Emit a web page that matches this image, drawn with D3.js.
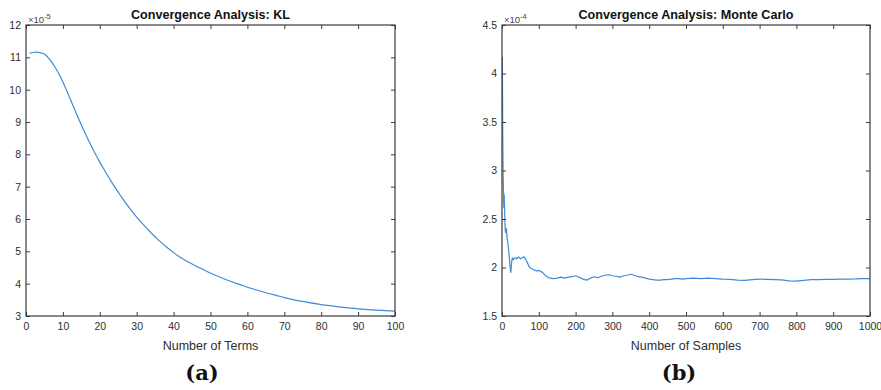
<!DOCTYPE html>
<html>
<head>
<meta charset="utf-8">
<script src="https://cdn.jsdelivr.net/npm/d3@7"></script>
<style>
  html, body { margin: 0; padding: 0; background: #fff; }
  svg { display: block; }
</style>
</head>
<body>
<svg id="chart" width="881" height="390"></svg>
<script>
// ---------- Data ----------
// Panel (a): KL expansion, error (x 1e-5) vs number of terms
const klTerms = [1, 2, 3, 4, 5, 6, 7, 8, 9, 10, 11, 12, 13, 14, 15, 16, 17, 18, 19, 20,
  21, 22, 23, 24, 25, 26, 27, 28, 29, 30, 32, 34, 36, 38, 40, 42, 45, 48, 50, 52, 55,
  58, 60, 62, 65, 68, 70, 75, 80, 85, 90, 95, 100];
const klError = [11.13, 11.15, 11.16, 11.14, 11.10, 10.99, 10.85, 10.67, 10.47, 10.24,
  9.98, 9.71, 9.44, 9.17, 8.91, 8.66, 8.42, 8.19, 7.97, 7.76,
  7.56, 7.37, 7.18, 7.00, 6.83, 6.66, 6.50, 6.35, 6.20, 6.06, 5.80, 5.56, 5.34, 5.14,
  4.96, 4.80, 4.61, 4.44, 4.33, 4.23, 4.09, 3.97, 3.89, 3.82, 3.72, 3.63, 3.57, 3.45,
  3.35, 3.28, 3.22, 3.18, 3.15];

// Panel (b): Monte Carlo, error (x 1e-4) vs number of samples
const mcSamples = [1, 2, 3, 4, 5, 6, 7, 8, 9, 10, 12, 14, 16, 18, 20, 22, 24, 26, 28, 30,
  35, 40, 45, 50, 55, 60, 65, 70, 75, 80, 85, 90, 95, 100, 105, 110, 115, 120, 130, 140,
  150, 160, 170, 180, 190, 200, 210, 220, 230, 240, 250, 260, 270, 280, 290, 300, 310,
  320, 330, 340, 350, 360, 370, 380, 390, 400, 410, 420, 430, 440, 450, 460, 470, 480,
  490, 500, 520, 540, 560, 580, 600, 620, 640, 660, 680, 700, 720, 740, 760, 780, 800,
  820, 840, 860, 880, 900, 920, 940, 960, 980, 1000];
const mcError = [4.17, 3.40, 2.95, 2.80, 2.62, 2.75, 2.60, 2.45, 2.38, 2.36, 2.40, 2.30,
  2.25, 2.18, 2.10, 2.00, 1.95, 2.05, 2.10, 2.08,
  2.10, 2.09, 2.11, 2.09, 2.10, 2.11, 2.08, 2.04, 2.00, 1.99, 1.98, 1.97, 1.965, 1.97,
  1.96, 1.95, 1.93, 1.91, 1.89, 1.885,
  1.89, 1.90, 1.89, 1.90, 1.905, 1.915, 1.90, 1.88, 1.87, 1.89, 1.905, 1.895, 1.91,
  1.92, 1.925, 1.915, 1.91,
  1.90, 1.915, 1.92, 1.93, 1.92, 1.905, 1.90, 1.89, 1.88, 1.875, 1.87, 1.87, 1.875,
  1.875, 1.88, 1.885, 1.885,
  1.88, 1.885, 1.89, 1.885, 1.89, 1.885, 1.88, 1.878, 1.87, 1.868, 1.875, 1.88, 1.878,
  1.875, 1.872, 1.862, 1.86,
  1.868, 1.875, 1.876, 1.877, 1.878, 1.88, 1.88, 1.882, 1.886, 1.886];

// Tick values / labels
const klXTicks = [0, 10, 20, 30, 40, 50, 60, 70, 80, 90, 100];
const klYTicks = [3, 4, 5, 6, 7, 8, 9, 10, 11, 12];
const mcXTicks = [0, 100, 200, 300, 400, 500, 600, 700, 800, 900, 1000];
const mcYTicks = [1.5, 2, 2.5, 3, 3.5, 4, 4.5];

const titles = ["Convergence Analysis: KL", "Convergence Analysis: Monte Carlo"];
const xLabels = ["Number of Terms", "Number of Samples"];
const exponents = ["-5", "-4"];
const panelTags = ["(a)", "(b)"];

// ---------- Drawing ----------
const svg = d3.select("#chart");
const axisColor = "#3a3a3a";
const textColor = "#2e2e2e";
const lineColor = "#3f8bd6";
const sans = "'Liberation Sans', Arial, Helvetica, sans-serif";

const panels = [
  { x: klTerms, y: klError, xDomain: [0, 100], yDomain: [3, 12],
    xTicks: klXTicks, yTicks: klYTicks, left: 26, right: 395 },
  { x: mcSamples, y: mcError, xDomain: [0, 1000], yDomain: [1.5, 4.5],
    xTicks: mcXTicks, yTicks: mcYTicks, left: 502, right: 870 }
];
const plotTop = 25, plotBottom = 316, tickLen = 4;

panels.forEach((p, i) => {
  const xs = d3.scaleLinear().domain(p.xDomain).range([p.left, p.right]);
  const ys = d3.scaleLinear().domain(p.yDomain).range([plotBottom, plotTop]);
  const g = svg.append("g").style("font-family", sans);

  const line = d3.line().x((d, k) => xs(p.x[k])).y((d, k) => ys(p.y[k]))
    .curve(i === 0 ? d3.curveMonotoneX : d3.curveLinear);
  g.append("path").datum(p.y).attr("d", line)
    .attr("fill", "none").attr("stroke", lineColor).attr("stroke-width", 1.2)
    .attr("stroke-linejoin", "round");

  const fmt = d3.format("");
  const styleAxis = sel => {
    sel.attr("font-family", null).attr("font-size", null);
    sel.selectAll(".domain").remove();
    sel.selectAll("line").attr("stroke", axisColor).attr("stroke-width", 1);
    sel.selectAll("text").attr("fill", textColor)
      .style("font-size", "10.5px").style("font-family", sans);
  };

  g.append("g").attr("transform", `translate(0,${plotBottom})`)
    .call(d3.axisBottom(xs).tickValues(p.xTicks).tickFormat(fmt)
      .tickSizeInner(-tickLen).tickSizeOuter(0).tickPadding(7))
    .call(styleAxis);
  g.append("g").attr("transform", `translate(0,${plotTop})`)
    .call(d3.axisTop(xs).tickValues(p.xTicks).tickFormat("")
      .tickSizeInner(-tickLen).tickSizeOuter(0))
    .call(styleAxis);
  g.append("g").attr("transform", `translate(${p.left},0)`)
    .call(d3.axisLeft(ys).tickValues(p.yTicks).tickFormat(fmt)
      .tickSizeInner(-tickLen).tickSizeOuter(0).tickPadding(5))
    .call(styleAxis);
  g.append("g").attr("transform", `translate(${p.right},0)`)
    .call(d3.axisRight(ys).tickValues(p.yTicks).tickFormat("")
      .tickSizeInner(-tickLen).tickSizeOuter(0))
    .call(styleAxis);

  g.append("rect").attr("x", p.left).attr("y", plotTop)
    .attr("width", p.right - p.left).attr("height", plotBottom - plotTop)
    .attr("fill", "none").attr("stroke", axisColor).attr("stroke-width", 1.2);

  const cx = (p.left + p.right) / 2;
  g.append("text").attr("x", cx).attr("y", 19).attr("text-anchor", "middle")
    .style("font-size", "12.6px").style("font-weight", "bold").attr("fill", "#111")
    .text(titles[i]);
  const ex = g.append("text").attr("x", p.left + 2).attr("y", 23)
    .style("font-size", "9.5px").attr("fill", "#444");
  ex.append("tspan").text("×10");
  ex.append("tspan").attr("dy", -4).style("font-size", "7.5px").text(exponents[i]);
  g.append("text").attr("x", cx).attr("y", 350).attr("text-anchor", "middle")
    .style("font-size", "12.5px").attr("fill", textColor).text(xLabels[i]);
  g.append("text").attr("x", i === 0 ? 202 : 679).attr("y", 380)
    .attr("text-anchor", "middle").style("font-size", "21px").style("font-weight", "bold")
    .style("font-family", "'DejaVu Serif', 'Liberation Serif', serif").attr("fill", "#111")
    .text(panelTags[i]);
});
</script>
</body>
</html>
